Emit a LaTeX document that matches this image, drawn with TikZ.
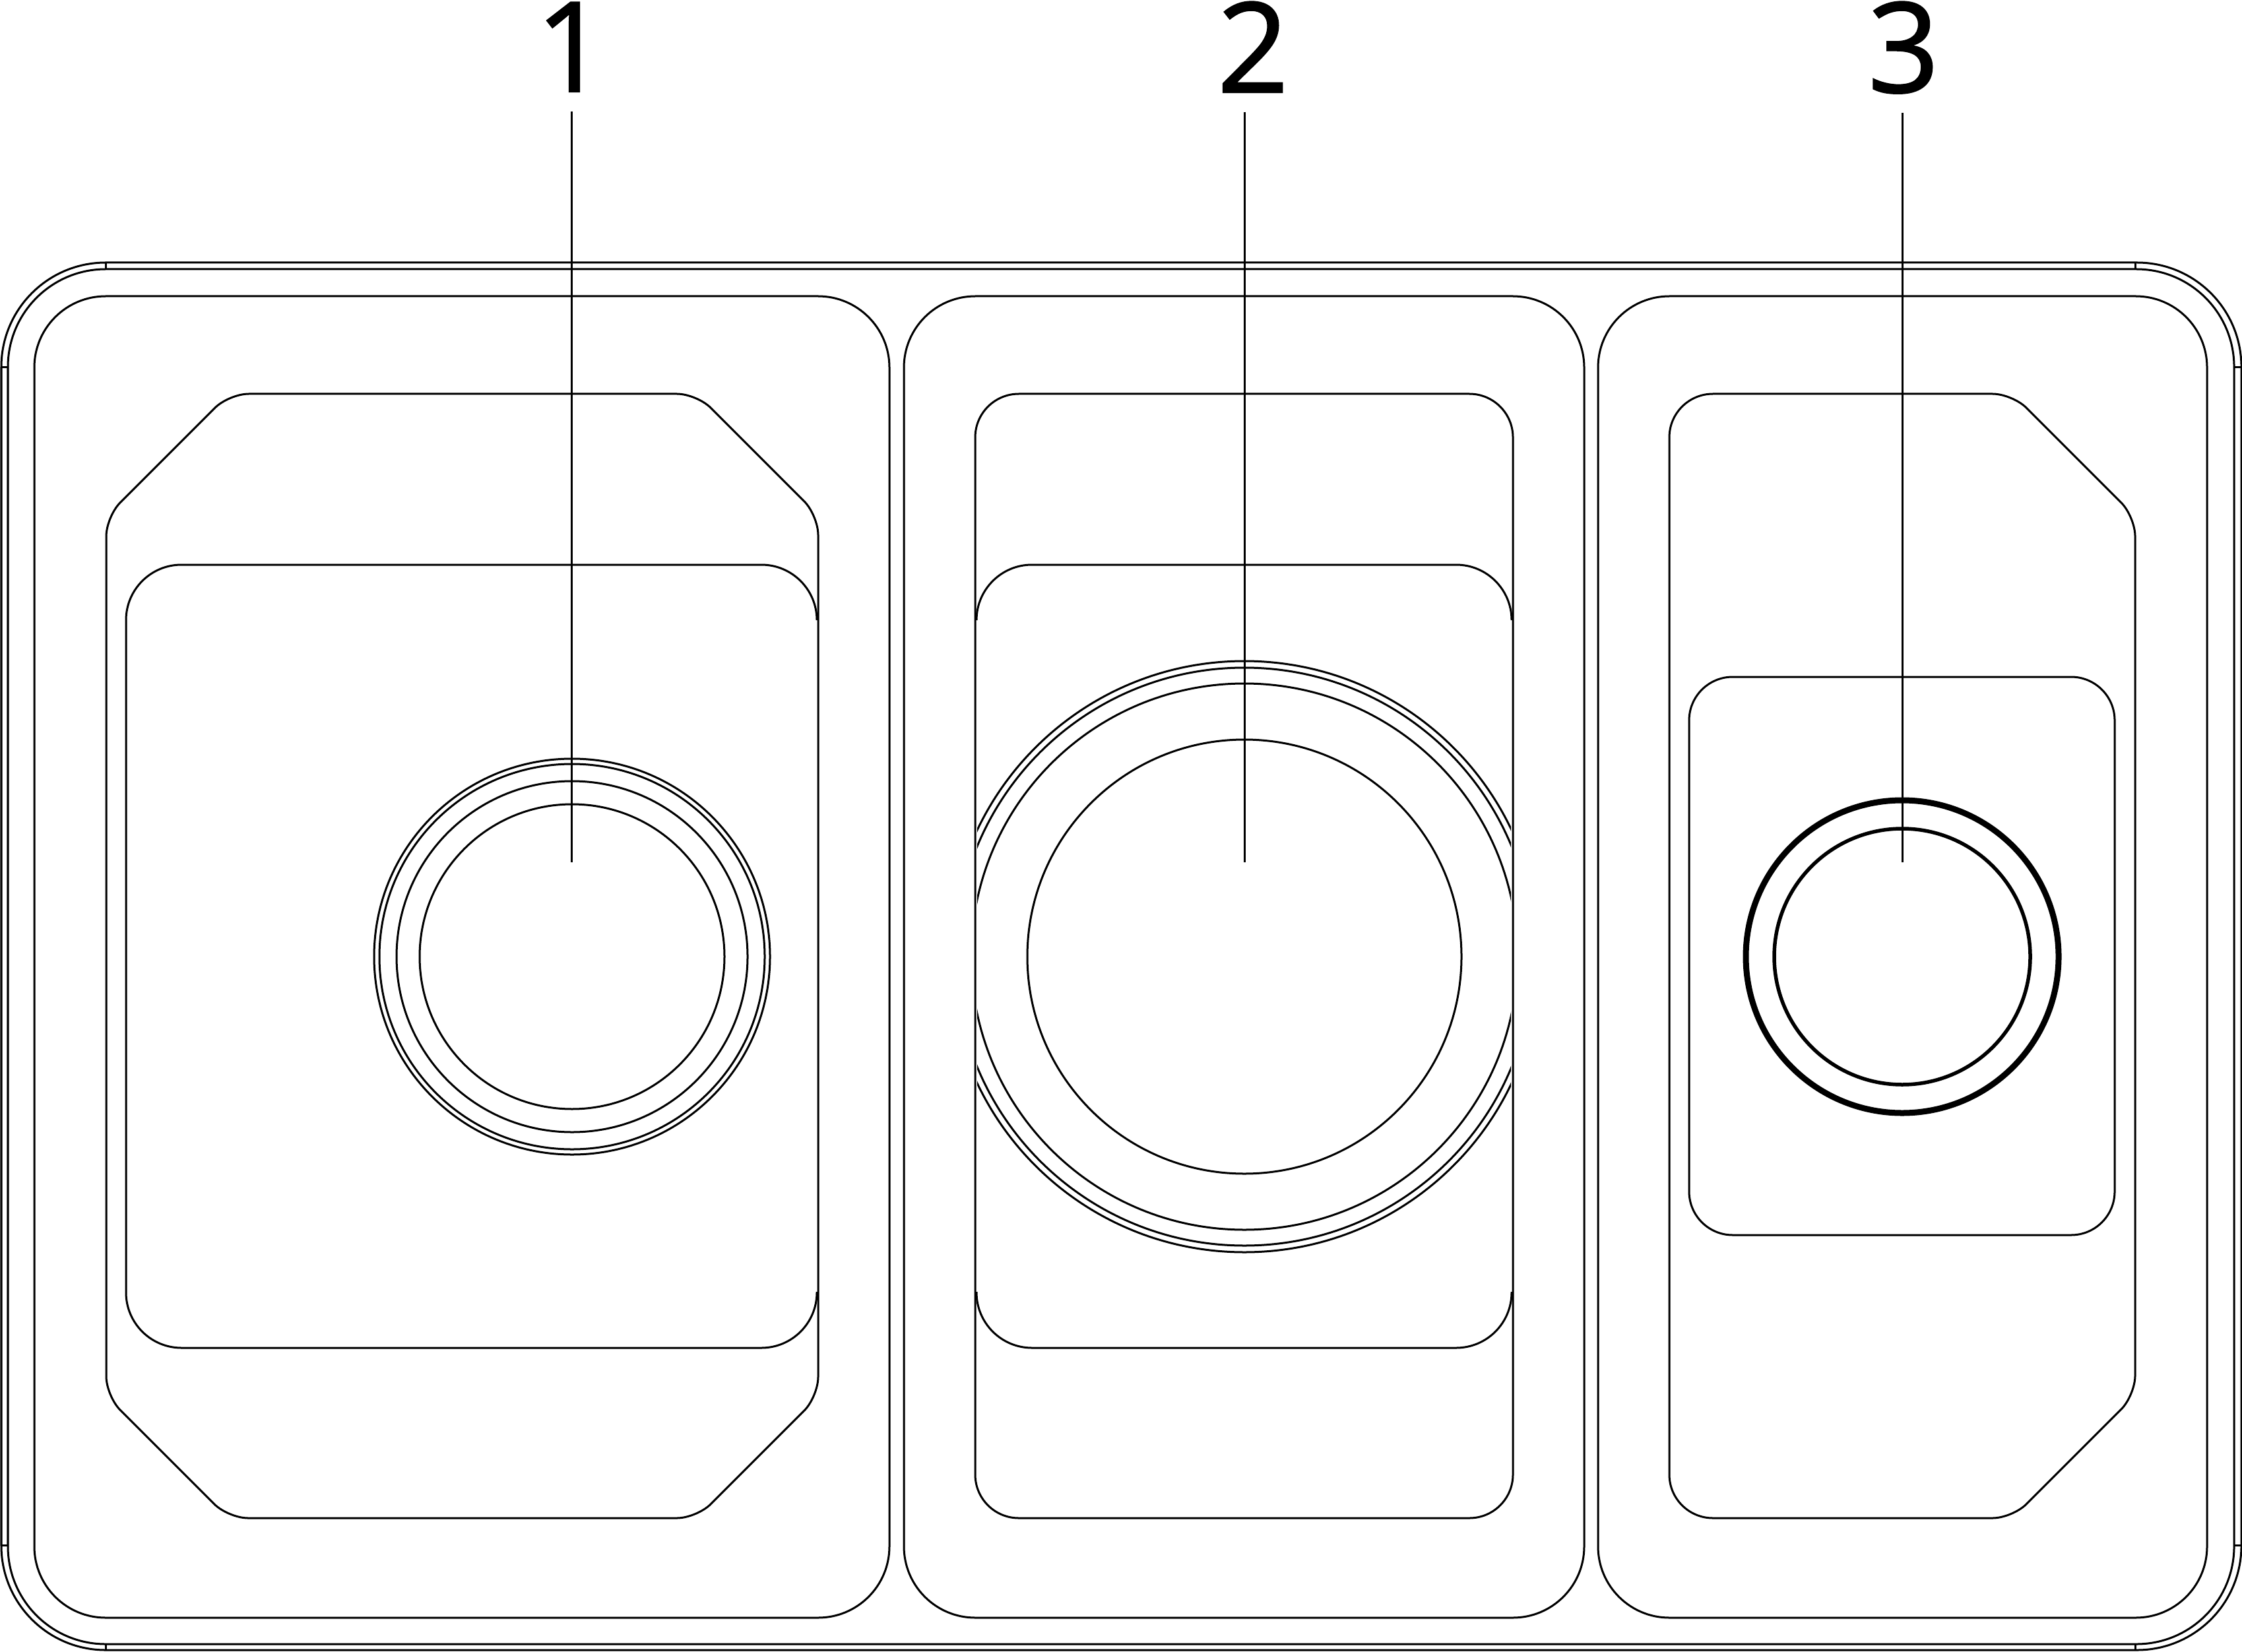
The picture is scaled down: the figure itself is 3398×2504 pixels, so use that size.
\documentclass[tikz,border=0pt]{standalone}
\usepackage{fontspec}
\newfontfamily\digitfont[FakeBold=1.2]{Open Sans}

\begin{document}
\begin{tikzpicture}[x=0.01cm, y=-0.01cm, line width=0.03cm,
		numlabel/.style={font=\digitfont\fontsize{54}{60}\selectfont, anchor=base, inner xsep=0pt, inner ysep=0.28cm},
		trayedge/.style={rounded corners=1.08cm},
		panelchamfer/.style={rounded corners=0.3cm},
		panelround/.style={rounded corners=0.66cm},
		boxround/.style={rounded corners=0.84cm},
		heavyring/.style={line width=0.09cm},
		medring/.style={line width=0.055cm}
	]
		\useasboundingbox (0,0) rectangle (3398,2504);
		
		%outer rim
		\draw[rounded corners=1.58cm] (2,398) rectangle (3397,2501);
		\draw[rounded corners=1.48cm] (12,408) rectangle (3386,2492);
		\draw (160,398) -- (160,408);
		\draw (3236,398) -- (3236,408);
		\draw (160,2492) -- (160,2501);
		\draw (3236,2492) -- (3236,2501);
		\draw (2,557) -- (12,557);
		\draw (3386,557) -- (3397,557);
		\draw (2,2342) -- (12,2342);
		\draw (3386,2342) -- (3397,2342);
		
		%trays
		\draw[trayedge] (52,449) rectangle (1348,2452);
		\draw[trayedge] (1370,449) rectangle (2401,2452);
		\draw[trayedge] (2422,449) rectangle (3345,2452);
		
		%left tray
		\draw[panelchamfer] (700,597) -- (1056,597) -- (1240,781) -- (1240,2117) -- (1056,2301) -- (346,2301) -- (161,2116) -- (161,783) -- (347,597) -- (700,597);
		\draw[boxround] (1238,940) -- (1238,856) -- (191,856) -- (191,2043) -- (1238,2043) -- (1238,1958);
		\draw (867,1450) circle[radius=231];
		\draw (867,1450) circle[radius=266];
		\draw (867,1450) circle[radius=292];
		\draw (867,1450) circle[radius=300];
		
		%middle tray
		\draw[panelround] (1478,597) rectangle (2293,2301);
		\draw[boxround] (1480,940) -- (1480,856) -- (2291,856) -- (2291,940);
		\draw[boxround] (1480,1958) -- (1480,2043) -- (2291,2043) -- (2291,1958);
		\draw (1886,1450) circle[radius=329];
		\begin{scope}
			\clip (1481,900) rectangle (2290,2000);
			\draw (1886,1450) circle[radius=414];
			\draw (1886,1450) circle[radius=438];
			\draw (1886,1450) circle[radius=448];
		\end{scope}
		
		%right tray
		\draw[panelchamfer] (2800,597) -- (3050,597) -- (3236,783) -- (3236,2115) -- (3050,2301) -- (2800,2301) [panelround] -- (2530,2301) -- (2530,597) -- (2800,597);
		\draw[panelround] (2560,1026) rectangle (3205,1872);
		\draw[heavyring] (2883,1450) circle[radius=237];
		\draw[medring] (2883,1450) circle[radius=194];
		
		%numbers
		\node[numlabel] at (866,139) (num1) {1};
		\node[numlabel] at (1899,140) (num2) {2};
		\node[numlabel] at (2885,140) (num3) {3};
		
		\coordinate (end1) at (866,1307);
		\coordinate (end2) at (1886,1307);
		\coordinate (end3) at (2883,1307);
		
		%leaders
		\draw (num1.south -| end1) -- (end1);
		\draw (num2.south -| end2) -- (end2);
		\draw (num3.south -| end3) -- (end3);
	\end{tikzpicture}
\end{document}
